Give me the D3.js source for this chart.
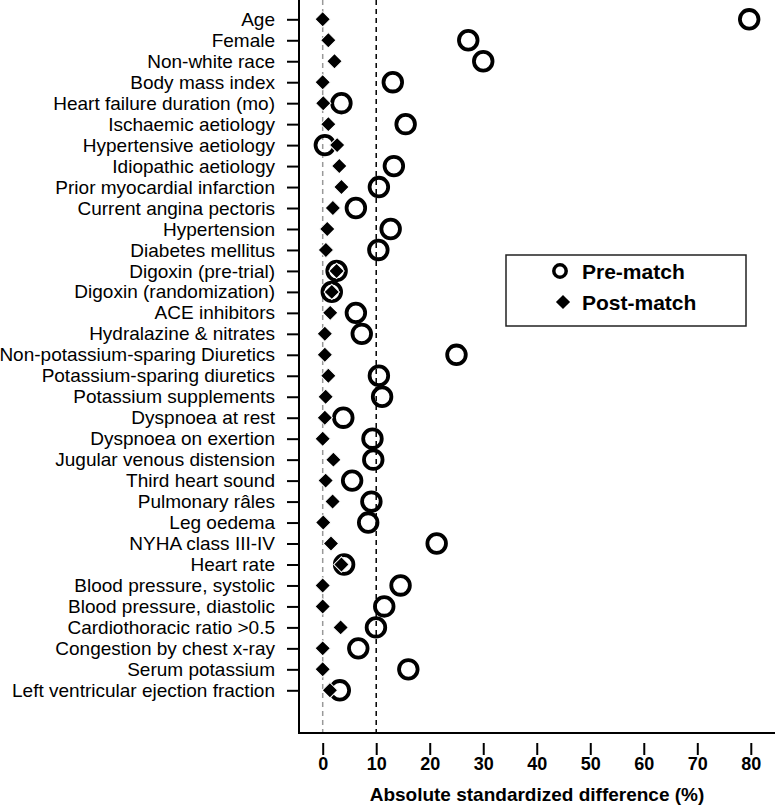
<!DOCTYPE html>
<html>
<head>
<meta charset="utf-8">
<script src="https://cdnjs.cloudflare.com/ajax/libs/d3/7.8.5/d3.min.js"></script>
<style>
  body { margin: 0; background: #fff; }
  svg { display: block; font-family: "Liberation Sans", Arial, Helvetica, sans-serif; }
</style>
</head>
<body>
<svg width="775" height="810"></svg>
<script>
// covariates, top to bottom
var covariates = [
  "Age", "Female", "Non-white race", "Body mass index", "Heart failure duration (mo)",
  "Ischaemic aetiology", "Hypertensive aetiology", "Idiopathic aetiology",
  "Prior myocardial infarction", "Current angina pectoris", "Hypertension ",
  "Diabetes mellitus ", "Digoxin (pre-trial)", "Digoxin (randomization)",
  "ACE inhibitors", "Hydralazine & nitrates", "Non-potassium-sparing Diuretics",
  "Potassium-sparing diuretics", "Potassium supplements", "Dyspnoea at rest",
  "Dyspnoea on exertion", "Jugular venous distension", "Third heart sound",
  "Pulmonary râles", "Leg oedema", "NYHA class III-IV", "Heart rate",
  "Blood pressure, systolic", "Blood pressure, diastolic", "Cardiothoracic ratio >0.5",
  "Congestion by chest x-ray", "Serum potassium", "Left ventricular ejection fraction"
];

// absolute standardized differences (%)
var preMatch = [
  79.7, 27.2, 30.0, 13.1, 3.5, 15.5, 0.4, 13.3, 10.5, 6.2, 12.7,
  10.4, 2.6, 1.7, 6.2, 7.3, 25.0, 10.5, 11.1, 3.85, 9.3, 9.45,
  5.5, 9.1, 8.5, 21.3, 4.0, 14.55, 11.5, 9.95, 6.65, 16.0, 3.2
];
var postMatch = [
  0.0, 1.05, 2.2, 0.0, 0.1, 1.05, 2.7, 3.1, 3.5, 1.9, 0.85,
  0.6, 2.6, 1.7, 1.4, 0.4, 0.4, 1.05, 0.55, 0.4, 0.0, 2.0,
  0.55, 1.85, 0.1, 1.55, 3.5, 0.0, 0.0, 3.35, 0.0, 0.0, 1.35
];
var xTicks = [0, 10, 20, 30, 40, 50, 60, 70, 80];
var refLines = [0, 10];

var svg = d3.select("svg");

var x = d3.scaleLinear().domain([0, 80]).range([322.7, 750.8]);
var y = d3.scalePoint().domain(covariates).range([19.3, 690.3]);

var left = 299, bottom = 733;

// reference lines
svg.selectAll("line.ref")
  .data(refLines)
  .enter().append("line")
    .attr("class", "ref")
    .attr("x1", function(d) { return x(d); })
    .attr("x2", function(d) { return x(d); })
    .attr("y1", 0)
    .attr("y2", bottom)
    .attr("stroke", function(d) { return d === 0 ? "#999" : "#000"; })
    .attr("stroke-width", 1.5)
    .attr("stroke-dasharray", "5,4");

// L-shaped frame
svg.append("path")
  .attr("d", "M" + left + ",0V" + bottom + "H775")
  .attr("fill", "none")
  .attr("stroke", "#000")
  .attr("stroke-width", 2);

// y axis
var gy = svg.append("g")
  .attr("transform", "translate(" + left + ",0)")
  .call(d3.axisLeft(y).tickSize(12).tickPadding(12));
gy.select(".domain").remove();
gy.selectAll(".tick line").attr("stroke", "#000").attr("stroke-width", 2);
gy.selectAll(".tick text")
  .attr("fill", "#000")
  .style("font-size", "19px")
  .style("font-family", "'Liberation Sans', Arial, sans-serif");

// x axis
var gx = svg.append("g")
  .attr("transform", "translate(0,743)")
  .call(d3.axisBottom(x).tickValues(xTicks).tickSize(12).tickPadding(2));
gx.select(".domain").remove();
gx.selectAll(".tick line").attr("stroke", "#000").attr("stroke-width", 2);
gx.selectAll(".tick text")
  .attr("fill", "#000")
  .style("font-size", "18px")
  .style("font-weight", "bold")
  .style("font-family", "'Liberation Sans', Arial, sans-serif");

svg.append("text")
  .attr("x", 537)
  .attr("y", 801)
  .attr("text-anchor", "middle")
  .style("font-size", "19px")
  .style("font-weight", "bold")
  .text("Absolute standardized difference (%)");

// pre-match circles
svg.append("g").selectAll("circle")
  .data(preMatch)
  .enter().append("circle")
    .attr("cx", function(d) { return x(d); })
    .attr("cy", function(d, i) { return y(covariates[i]); })
    .attr("r", 9.3)
    .attr("fill", "none")
    .attr("stroke", "#000")
    .attr("stroke-width", 3.8);

// post-match diamonds
var diamond = d3.symbol().type(d3.symbolSquare).size(118);
svg.append("g").selectAll("path")
  .data(postMatch)
  .enter().append("path")
    .attr("d", diamond)
    .attr("transform", function(d, i) {
      return "translate(" + x(d) + "," + y(covariates[i]) + ") rotate(45)";
    })
    .attr("fill", "#000")
    .attr("stroke", "#fff")
    .attr("stroke-width", 1);

// legend
var lg = svg.append("g");
lg.append("rect")
  .attr("x", 506).attr("y", 255)
  .attr("width", 240).attr("height", 71)
  .attr("fill", "#fff")
  .attr("stroke", "#222")
  .attr("stroke-width", 1.5);
lg.append("circle")
  .attr("cx", 560).attr("cy", 271)
  .attr("r", 6.2)
  .attr("fill", "none")
  .attr("stroke", "#000")
  .attr("stroke-width", 3.5);
lg.append("path")
  .attr("d", d3.symbol().type(d3.symbolSquare).size(100))
  .attr("transform", "translate(563,302) rotate(45)")
  .attr("fill", "#000");
lg.append("text")
  .attr("x", 582).attr("y", 278.5)
  .style("font-size", "21px").style("font-weight", "bold")
  .text("Pre-match");
lg.append("text")
  .attr("x", 582).attr("y", 309.5)
  .style("font-size", "21px").style("font-weight", "bold")
  .text("Post-match");
</script>
</body>
</html>
